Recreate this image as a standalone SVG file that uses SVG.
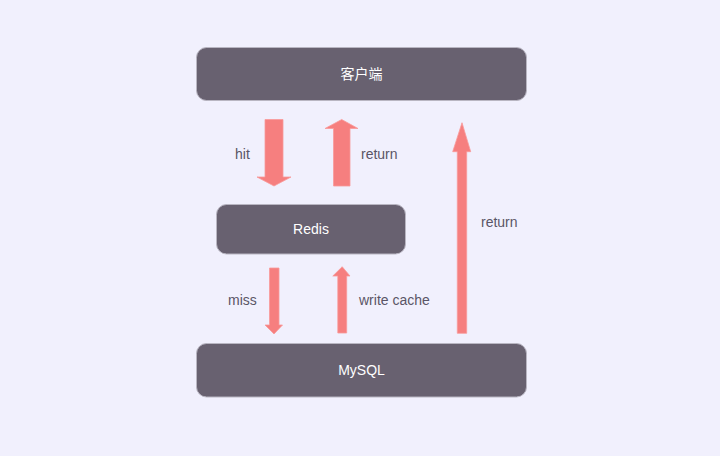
<svg xmlns="http://www.w3.org/2000/svg" width="720" height="456" viewBox="0 0 720 456">
<style>
.node rect{fill:#686170;stroke:#b9b6c2;stroke-width:1}
.node text{fill:#ffffff;font-family:"Liberation Sans","Noto Sans CJK SC",sans-serif;font-size:14px;text-anchor:middle;dominant-baseline:central}
.arrow{fill:#f67f7f;stroke:#f99a9a;stroke-width:0.8}
.lbl{fill:#5a5566;font-family:"Liberation Sans",sans-serif;font-size:14px;dominant-baseline:central}
</style>
<rect x="0" y="0" width="720" height="456" fill="#f1f0fd"/>
<g id="connectors">
<polygon class="arrow" points="265,119.5 283,119.5 283,177 291,177 274,186 257,177 265,177"/>
<polygon class="arrow" points="333.5,186 350,186 350,128.5 358,128.5 341.7,119.5 325,128.5 333.5,128.5"/>
<polygon class="arrow" points="269.5,268 279,268 279,325 282.5,325 274,334 265,325 269.5,325"/>
<polygon class="arrow" points="337.8,333 346.7,333 346.7,276 350,276 342.2,266.7 332.8,276 337.8,276"/>
<polygon class="arrow" points="457.3,333.3 466.7,333.3 466.7,151.7 470.7,151.7 462,122.7 452.7,151.7 457.3,151.7"/>
<text class="lbl" x="235" y="154">hit</text>
<text class="lbl" x="361" y="154">return</text>
<text class="lbl" x="228" y="300">miss</text>
<text class="lbl" x="359" y="300">write cache</text>
<text class="lbl" x="481" y="222">return</text>
</g>
<g id="client" class="node"><rect x="196.5" y="47.5" width="330" height="53" rx="10"/><text x="361.5" y="74">客户端</text></g>
<g id="redis" class="node"><rect x="216.5" y="204.5" width="189" height="49.5" rx="10"/><text x="311" y="229">Redis</text></g>
<g id="mysql" class="node"><rect x="196.5" y="343.5" width="330" height="53.5" rx="10"/><text x="361.5" y="370">MySQL</text></g>
</svg>
